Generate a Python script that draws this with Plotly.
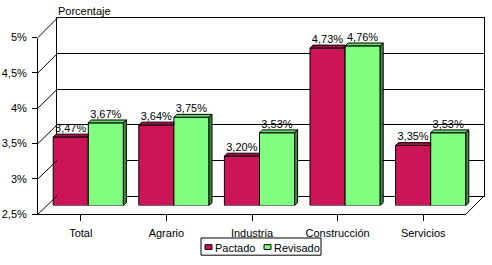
import plotly.graph_objects as go

# ---- data ----
categories = ["Total", "Agrario", "Industria", "Construcción", "Servicios"]
pactado = [3.47, 3.64, 3.20, 4.73, 3.35]
revisado = [3.67, 3.75, 3.53, 4.76, 3.53]
tick_vals = [2.5, 3.0, 3.5, 4.0, 4.5, 5.0]
tick_text = ["2,5%", "3%", "3,5%", "4%", "4,5%", "5%"]
series_names = ["Pactado", "Revisado"]

# ---- styles / geometry (pixels) ----
W, H = 492, 265
FONT = "Liberation Sans, Arial, sans-serif"
C_PAC, C_PAC_TOP = "#CC1458", "#A80F48"
C_REV, C_REV_TOP, C_REV_SIDE = "#80FF80", "#66DD66", "#3C8C3C"

def fx(p):
    return p / W

def fy(p):
    return 1 - p / H

YMIN, YMAX = 2.5, 5.0
back = dict(x=(57, 484), y=(199, 13))   # y pixel of YMIN, YMAX
front = dict(x=(38, 466), y=(218, 33))
mid = dict(x=(45.5, 473.5), y=(209, 24))

def fmt(v):
    return f"{v:.2f}".replace(".", ",") + "%"

fig = go.Figure()

# empty traces so that the wall and front-axis subplots are drawn
fig.add_trace(go.Scatter(x=[None], y=[None], xaxis="x", yaxis="y",
                         showlegend=False, hoverinfo="skip"))
fig.add_trace(go.Scatter(x=[None], y=[None], xaxis="x2", yaxis="y2",
                         showlegend=False, hoverinfo="skip"))

# bars (subplot x3/y3, drawn last so they sit above the back wall)
BW = 0.41
fig.add_trace(go.Bar(
    x=list(range(len(categories))), y=[v - YMIN for v in pactado], base=YMIN,
    name=series_names[0], width=BW, offset=-BW,
    marker=dict(color=C_PAC, line=dict(color="black", width=1)),
    text=[fmt(v) for v in pactado], textposition="outside",
    textfont=dict(family=FONT, size=11, color="black"), cliponaxis=False,
    xaxis="x3", yaxis="y3", showlegend=False))
fig.add_trace(go.Bar(
    x=list(range(len(categories))), y=[v - YMIN for v in revisado], base=YMIN,
    name=series_names[1], width=BW, offset=0,
    marker=dict(color=C_REV, line=dict(color="black", width=1)),
    text=[fmt(v) for v in revisado], textposition="outside",
    textfont=dict(family=FONT, size=11, color="black"), cliponaxis=False,
    xaxis="x3", yaxis="y3", showlegend=False))

# 3D faces of the bars, through the bar axes
xunit = (mid["x"][1] - mid["x"][0]) / 5.0
yunit = (mid["y"][0] - mid["y"][1]) / (YMAX - YMIN)
dx, dy = 3 / xunit, 3 / yunit
shapes = []
for i, (p, r) in enumerate(zip(pactado, revisado)):
    x0, x1 = i - BW, i
    shapes.append(dict(type="path", xref="x3", yref="y3", layer="above",
                       path=f"M{x0},{p} L{x0+dx},{p+dy} L{x1},{p+dy} L{x1},{p} Z",
                       fillcolor=C_PAC_TOP, line=dict(color="black", width=1)))
    x0, x1 = i, i + BW
    shapes.append(dict(type="path", xref="x3", yref="y3", layer="above",
                       path=f"M{x0},{r} L{x0+dx},{r+dy} L{x1+dx},{r+dy} L{x1},{r} Z",
                       fillcolor=C_REV_TOP, line=dict(color="black", width=1)))
    shapes.append(dict(type="path", xref="x3", yref="y3", layer="above",
                       path=f"M{x1},{YMIN} L{x1+dx},{YMIN+dy} L{x1+dx},{r+dy} L{x1},{r} Z",
                       fillcolor=C_REV_SIDE, line=dict(color="black", width=1)))

# left wall diagonals (front tick -> back gridline) and floor right edge
def ypix(v, plane):
    a, b = plane["y"]
    return a + (v - YMIN) / (YMAX - YMIN) * (b - a)

for v in tick_vals:
    shapes.append(dict(type="line", xref="paper", yref="paper",
                       x0=fx(front["x"][0]), y0=fy(ypix(v, front)),
                       x1=fx(back["x"][0]), y1=fy(ypix(v, back)),
                       line=dict(color="black", width=1)))
shapes.append(dict(type="line", xref="paper", yref="paper",
                   x0=fx(front["x"][1]), y0=fy(front["y"][0]),
                   x1=fx(back["x"][1]), y1=fy(back["y"][0]),
                   line=dict(color="black", width=1)))

# legend (box, swatches, labels)
leg_box = (201, 243, 321, 261)
shapes.append(dict(type="rect", xref="paper", yref="paper",
                   x0=fx(leg_box[0]), y0=fy(leg_box[3]),
                   x1=fx(leg_box[2]), y1=fy(leg_box[1]),
                   fillcolor="white", line=dict(color="black", width=1)))
swatches = [(205, C_PAC), (264, C_REV)]
annotations = []
for (sx, col), name in zip(swatches, series_names):
    shapes.append(dict(type="rect", xref="paper", yref="paper",
                       x0=fx(sx), y0=fy(255), x1=fx(sx + 7), y1=fy(250),
                       fillcolor=col, line=dict(color="black", width=1)))
    annotations.append(dict(text=name, xref="paper", yref="paper",
                            x=fx(sx + 8), y=fy(253), xanchor="left",
                            yanchor="middle", showarrow=False,
                            font=dict(family=FONT, size=11)))

annotations.append(dict(text="Porcentaje", xref="paper", yref="paper",
                        x=fx(56), y=fy(5), xanchor="left", yanchor="middle",
                        showarrow=False, font=dict(family=FONT, size=11)))

fig.update_layout(
    width=W, height=H,
    margin=dict(l=0, r=0, t=0, b=0),
    paper_bgcolor="white", plot_bgcolor="rgba(0,0,0,0)",
    font=dict(family=FONT, size=11, color="black"),
    barmode="overlay",
    showlegend=False,
    # back wall
    xaxis=dict(domain=[fx(back["x"][0]), fx(back["x"][1])], range=[-0.5, 4.5],
               showticklabels=False, ticks="", showgrid=False, zeroline=False,
               showline=True, mirror=True, linecolor="black", linewidth=1,
               anchor="y", fixedrange=True),
    yaxis=dict(domain=[fy(back["y"][0]), fy(back["y"][1])], range=[YMIN, YMAX],
               tickvals=tick_vals, showticklabels=False, ticks="",
               showgrid=True, gridcolor="black", gridwidth=1, zeroline=False,
               showline=True, mirror=True, linecolor="black", linewidth=1,
               anchor="x", fixedrange=True),
    # front axes
    xaxis2=dict(domain=[fx(front["x"][0]), fx(front["x"][1])], range=[-0.5, 4.5],
                tickvals=list(range(len(categories))), ticktext=categories,
                ticks="outside", ticklen=6, tickcolor="black",
                ticklabelstandoff=3,
                showgrid=False, zeroline=False, showline=True,
                linecolor="black", linewidth=1, anchor="y2", fixedrange=True),
    yaxis2=dict(domain=[fy(front["y"][0]), fy(front["y"][1])], range=[YMIN, YMAX],
                tickvals=tick_vals, ticktext=tick_text,
                ticks="outside", ticklen=5, tickcolor="black",
                ticklabelstandoff=3,
                showgrid=False, zeroline=False, showline=True,
                linecolor="black", linewidth=1, anchor="x2", fixedrange=True),
    # bar plane
    xaxis3=dict(domain=[fx(mid["x"][0]), fx(mid["x"][1])], range=[-0.5, 4.5],
                visible=False, anchor="y3", fixedrange=True),
    yaxis3=dict(domain=[fy(mid["y"][0]), fy(mid["y"][1])], range=[YMIN, YMAX],
                visible=False, anchor="x3", fixedrange=True),
    shapes=shapes,
    annotations=annotations,
)

fig.write_html("out.html")
